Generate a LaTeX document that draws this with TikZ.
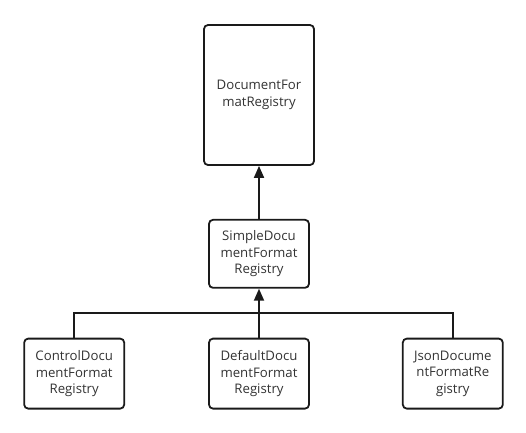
\documentclass[tikz,border=0pt]{standalone}
\usepackage{fontspec}
\setmainfont{Open Sans}
\usetikzlibrary{arrows.meta}
\usetikzlibrary{positioning}
\usetikzlibrary{calc}
\tikzset{
  % filled triangle tips for the inheritance arrows
  >={Triangle[length=12pt,width=10pt]},
  line/.style={draw, ->},
  link/.style={draw}
}
\definecolor{txtgray}{HTML}{333333}
\definecolor{edgegray}{HTML}{1A1A1A}

\begin{document}
\begin{tikzpicture}[x=1pt, y=1pt, line width=1.8pt, draw=edgegray]
    % Define styles
    \tikzstyle{cls} = [rectangle, draw=edgegray, rounded corners=4pt, align=center, text=txtgray, font=\fontsize{13.2}{16.5}\selectfont, minimum width=100pt, minimum height=70pt, inner sep=0pt]

    \useasboundingbox (0,0) rectangle (526,-432);

    % Place nodes - base registry
    \node [cls, minimum width=110pt, minimum height=140pt] (registry) at (259,-95) {DocumentFor\\matRegistry};
    \node [cls, minimum width=100pt, minimum height=68pt, below=53pt of registry] (simple) {SimpleDocu\\mentFormat\\Registry};

    % Place nodes - concrete registries
    \node [cls, below=49pt of simple] (default) {DefaultDocu\\mentFormat\\Registry};
    \node [cls, left=83pt of default] (control) {ControlDocu\\mentFormat\\Registry};
    \node [cls, right=92pt of default] (json) {JsonDocume\\ntFormatRe\\gistry};

    % Junction of the lower tree
    \coordinate (join) at ($(simple.south)!0.5!(default.north)$);

    % Draw edges
    \path [line] (simple) -- (registry);
    \path [line] (default) -- (simple);
    \path [link] (control.north) -- (control.north |- join) -- (json.north |- join) -- (json.north);
\end{tikzpicture}
\end{document}
